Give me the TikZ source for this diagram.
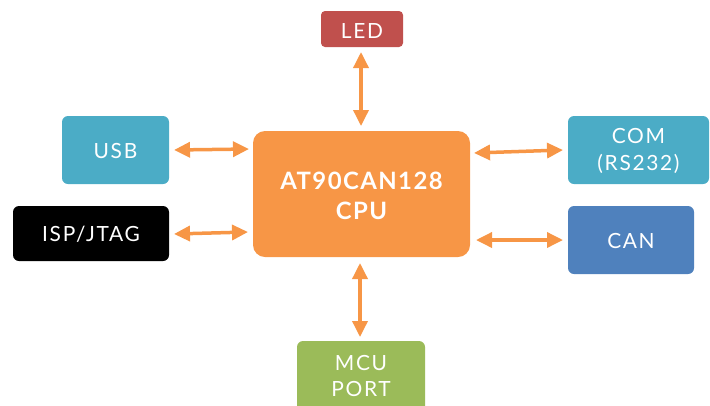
\documentclass[tikz,border=0pt]{standalone}
\usepackage{fontspec}
\setmainfont{Lato}
\usetikzlibrary{arrows.meta}
\definecolor{cpuor}{HTML}{F79646}
\definecolor{usbbl}{HTML}{4BACC6}
\definecolor{canbl}{HTML}{4F81BD}
\definecolor{ledrd}{HTML}{C0504D}
\definecolor{mcugr}{HTML}{9BBB59}
\tikzset{
  blk/.style={rounded corners=6bp, inner sep=0pt, text=white, align=center,
    font=\fontsize{21}{27}\selectfont\addfontfeatures{LetterSpace=8}},
  link/.style={draw=cpuor, line width=3.5bp,
    {Triangle[width=15bp,length=16bp]}-{Triangle[width=15bp,length=16bp]}}
}
\begin{document}
\begin{tikzpicture}[x=1bp,y=-1bp]
\useasboundingbox (0,0) rectangle (710,405);
% boxes (corner coordinates)
\fill[cpuor, rounded corners=12bp] (253,131) rectangle (470,257);
\node[text=white, align=center, font=\fontsize{24}{30}\selectfont\bfseries\addfontfeatures{LetterSpace=6}] (cpu) at (361.5,196) {AT90CAN128\\CPU};

\fill[usbbl, rounded corners=6bp] (62,116) rectangle (169,184);
\node[blk] (usb) at (115.5,151) {USB};
\fill[black, rounded corners=6bp] (13,206) rectangle (169,261);
\node[blk] (isp) at (91,234.5) {ISP/JTAG};
\fill[usbbl, rounded corners=6bp] (568,116) rectangle (709,184);
\node[blk] (com) at (638.5,151) {COM\\(RS232)};
\fill[canbl, rounded corners=6bp] (568,206) rectangle (694,274);
\node[blk] (can) at (631,241) {CAN};
\fill[ledrd, rounded corners=4bp] (321,11) rectangle (403,47);
\node[blk] (led) at (362,31) {LED};
\fill[mcugr, rounded corners=6bp] (297,341) rectangle (425,418);
\node[blk] (mcu) at (361,376) {MCU\\PORT};

% connector endpoints
\coordinate (ledA) at (361,52);
\coordinate (ledB) at (361,126);
\coordinate (mcuA) at (360,263);
\coordinate (mcuB) at (360,337);
\coordinate (usbA) at (174,150);
\coordinate (usbB) at (249,149);
\coordinate (ispA) at (174,234);
\coordinate (ispB) at (248,232);
\coordinate (comA) at (474,153);
\coordinate (comB) at (563,150);
\coordinate (canA) at (476,240);
\coordinate (canB) at (563,240);
\draw[link] (ledA) -- (ledB);
\draw[link] (mcuA) -- (mcuB);
\draw[link] (usbA) -- (usbB);
\draw[link] (ispA) -- (ispB);
\draw[link] (comA) -- (comB);
\draw[link] (canA) -- (canB);
\end{tikzpicture}
\end{document}
